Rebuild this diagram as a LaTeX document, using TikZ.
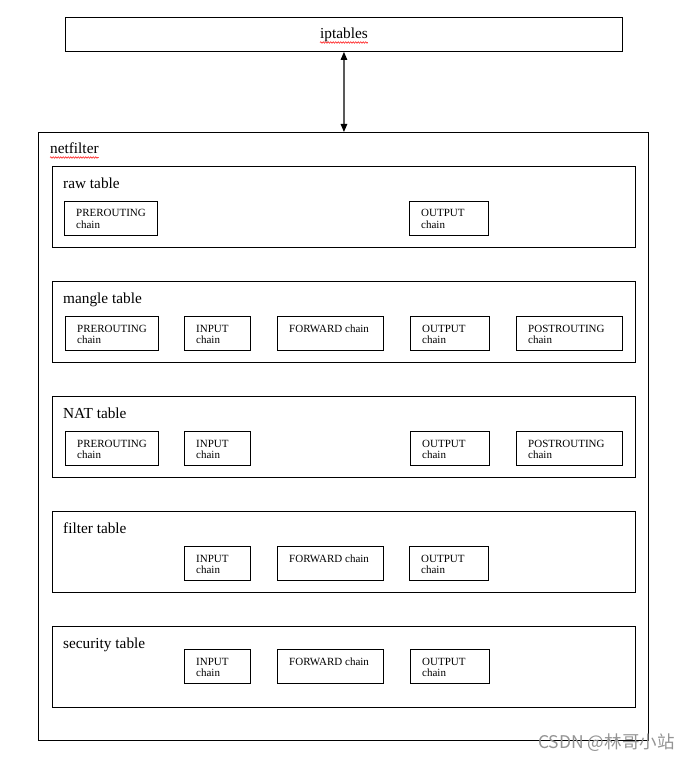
\documentclass[tikz,border=0pt]{standalone}
\usepackage{fontspec}
\setmainfont{Liberation Serif}
\newfontfamily\cjkfont{Noto Sans CJK SC}
\usetikzlibrary{arrows.meta,calc,decorations.pathmorphing}
\tikzset{
  box/.style={draw=black, line width=0.9pt, inner sep=0pt, anchor=north west},
  chainbox/.style={box, minimum height=34pt},
  chaintext/.style={inner sep=0pt, anchor=base west, font=\fontsize{11}{12}\selectfont},
  bigtext/.style={inner sep=0pt, anchor=base west, font=\fontsize{15.3}{17}\selectfont},
  squiggle/.style={draw=red, line width=0.5pt, decorate, decoration={snake, amplitude=0.8pt, segment length=2.5pt}},
  conn/.style={line width=1.2pt, draw=black!65, {Triangle[width=6.5pt,length=8pt,color=black]}-{Triangle[width=6.5pt,length=8pt,color=black]}},
}
% name, x1, x2, y1, line1, line2
\newcommand\chn[6]{%
  \node[chainbox, minimum width={(#3-#2)*1pt}] (#1) at (#2,#4) {};
  \node[chaintext] (#1-a) at ($(#1.north west)+(12,16)$) {#5};
  \node[chaintext] (#1-b) at ($(#1.north west)+(12,27)$) {#6};
}
\newcommand\chnone[5]{%
  \node[chainbox, minimum width={(#3-#2)*1pt}] (#1) at (#2,#4) {};
  \node[chaintext] (#1-a) at ($(#1.north west)+(12,16)$) {#5};
}
% name, y1, label
\newcommand\tbl[3]{%
  \node[box, minimum width=583pt, minimum height=81pt] (#1) at (52,#2) {};
  \node[bigtext] (#1-l) at ($(#1.north west)+(11,22.5)$) {#3};
}
\begin{document}
\begin{tikzpicture}[x=1pt,y=-1pt]
\useasboundingbox[fill=white] (0,0) rectangle (690,759);

% iptables
\node[box, minimum width=557pt, minimum height=34pt] (ipt) at (65,17) {};
\node[bigtext, anchor=base] (ipt-l) at ($(ipt.north)+(0,22)$) {iptables};
\draw[squiggle] ($(ipt-l.base west)+(0,3.5)$) -- ($(ipt-l.base east)+(0,3.5)$);

% netfilter
\node[box, minimum width=610pt, minimum height=608pt] (nf) at (38,132) {};
\node[bigtext] (nf-l) at ($(nf.north west)+(12,22)$) {netfilter};
\draw[squiggle] ($(nf-l.base west)+(0,3.5)$) -- ($(nf-l.base east)+(0,3.5)$);

\draw[conn] (ipt.south) -- (ipt.south |- nf.north);

% raw table
\tbl{raw}{166}{raw table}
\chn{rawpre}{64}{157}{201}{PREROUTING}{chain}
\chn{rawout}{409}{488}{201}{OUTPUT}{chain}

% mangle table
\tbl{mangle}{281}{mangle table}
\chn{mpre}{65}{158}{316}{PREROUTING}{chain}
\chn{min}{184}{250}{316}{INPUT}{chain}
\chnone{mfwd}{277}{383}{316}{FORWARD chain}
\chn{mout}{410}{489}{316}{OUTPUT}{chain}
\chn{mpost}{516}{622}{316}{POSTROUTING}{chain}

% NAT table
\tbl{nat}{396}{NAT table}
\chn{npre}{65}{158}{431}{PREROUTING}{chain}
\chn{nin}{184}{250}{431}{INPUT}{chain}
\chn{nout}{410}{489}{431}{OUTPUT}{chain}
\chn{npost}{516}{622}{431}{POSTROUTING}{chain}

% filter table
\tbl{filter}{511}{filter table}
\chn{fin}{184}{250}{546}{INPUT}{chain}
\chnone{ffwd}{277}{383}{546}{FORWARD chain}
\chn{fout}{409}{488}{546}{OUTPUT}{chain}

% security table
\tbl{sec}{626}{security table}
\chn{sin}{184}{250}{649}{INPUT}{chain}
\chnone{sfwd}{277}{383}{649}{FORWARD chain}
\chn{sout}{410}{489}{649}{OUTPUT}{chain}

% watermark
\node[inner sep=0pt, anchor=base west, text=black!42, font=\cjkfont\fontsize{17.5}{19}\selectfont] (wm) at (538,748) {CSDN @林哥小站};
\end{tikzpicture}
\end{document}
